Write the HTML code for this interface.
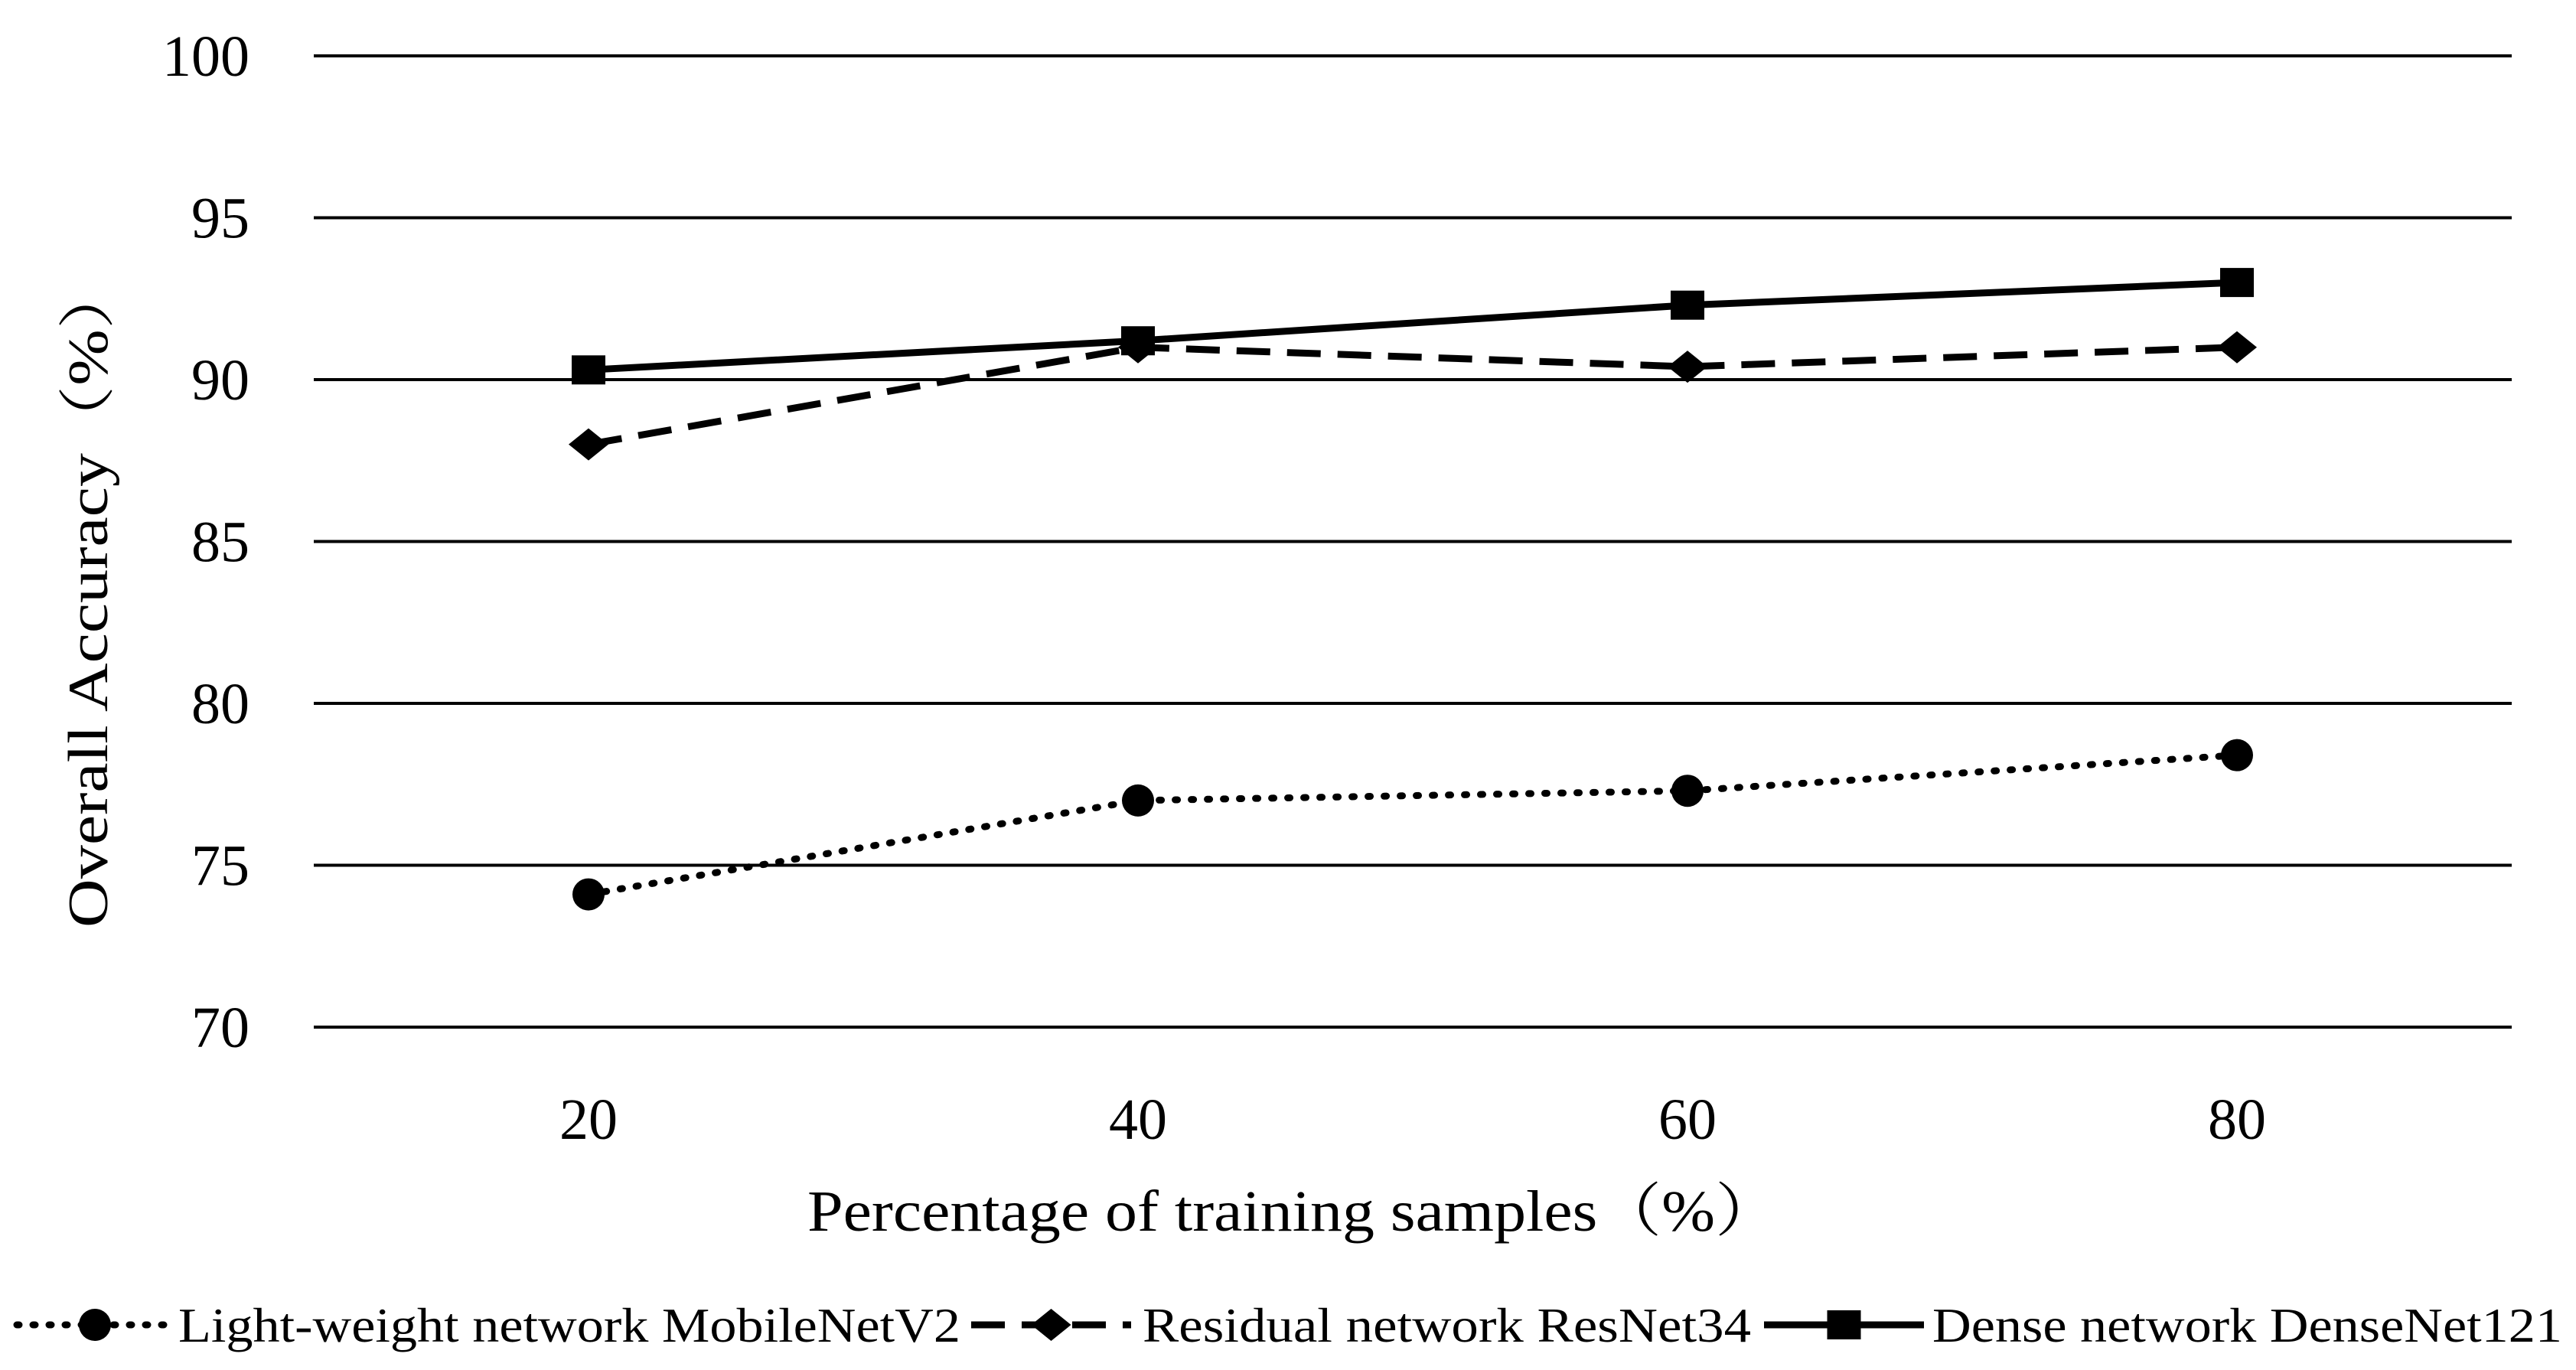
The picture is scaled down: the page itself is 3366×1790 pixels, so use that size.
<!DOCTYPE html>
<html><head><meta charset="utf-8"><style>
html,body{margin:0;padding:0;background:#fff;}
svg{display:block;font-family:"Liberation Serif","Noto Serif CJK SC",serif;}
</style></head><body>
<svg id="chart" width="3366" height="1790" viewBox="0 0 3366 1790" xmlns="http://www.w3.org/2000/svg">
<g id="grid"></g>
<g id="yticks"></g>
<g id="xticks"></g>
<g id="series"></g>
<text transform="translate(140,777) rotate(-90)" text-anchor="middle" font-size="74" textLength="870" lengthAdjust="spacingAndGlyphs">Overall Accuracy（%）</text>
<text x="1690" y="1608" text-anchor="middle" font-size="76" textLength="1270" lengthAdjust="spacingAndGlyphs">Percentage of training samples（%）</text>
<g id="legend"></g>
</svg>
<script>
const categories = [20, 40, 60, 80];
const mobileValues = [74.1, 77.0, 77.3, 78.4];
const resnetValues = [88.0, 91.0, 90.4, 91.0];
const densenetValues = [90.3, 91.2, 92.3, 93.0];
const yTicks = [70, 75, 80, 85, 90, 95, 100];
const seriesNames = ["Light-weight network MobileNetV2", "Residual network ResNet34", "Dense network DenseNet121"];

const NS = "http://www.w3.org/2000/svg";
const plotLeft = 410, plotRight = 3282, plotTop = 73, plotBottom = 1342;
const yMin = 70, yMax = 100;
function xPos(i){ const band = (plotRight-plotLeft)/categories.length; return plotLeft + band*(i+0.5); }
function yPos(v){ return plotBottom - (v-yMin)/(yMax-yMin)*(plotBottom-plotTop); }
function mk(tag, attrs, parent){ const e=document.createElementNS(NS,tag); for(const k in attrs) e.setAttribute(k,attrs[k]); parent.appendChild(e); return e; }

const grid=document.getElementById('grid'), yt=document.getElementById('yticks'), xt=document.getElementById('xticks');
yTicks.forEach(t=>{
  const l=mk('line',{x1:plotLeft,x2:plotRight,y1:yPos(t),y2:yPos(t),stroke:'#000','stroke-width':4},grid);
  
  
  const tx=mk('text',{x:326,y:yPos(t)+26,'text-anchor':'end','font-size':76},yt);
  tx.textContent=t;
  
  
});
categories.forEach((c,i)=>{
  const tx=mk('text',{x:xPos(i),y:1488,'text-anchor':'middle','font-size':76},xt);
  tx.textContent=c;
  
  
});

const styles=[
  {vals:mobileValues,dash:'3 18',cap:'round',w:9,marker:'circle',key:'mobilenet'},
  {vals:resnetValues,dash:'44 22',cap:'butt',w:9,marker:'diamond',key:'resnet'},
  {vals:densenetValues,dash:'none',cap:'butt',w:9,marker:'square',key:'densenet'}
];
function marker(type,x,y,parent,name){
  let m;
  if(type==='circle') m=mk('circle',{cx:x,cy:y,r:21,fill:'#000'},parent);
  else if(type==='diamond') m=mk('polygon',{points:`${x},${y-21} ${x+26},${y} ${x},${y+21} ${x-26},${y}`,fill:'#000'},parent);
  else m=mk('rect',{x:x-22,y:y-19,width:44,height:38,fill:'#000'},parent);
  
  
}
const sg=document.getElementById('series');
styles.forEach(s=>{
  const pts=s.vals.map((v,i)=>xPos(i)+','+yPos(v)).join(' ');
  const pl=mk('polyline',{points:pts,fill:'none',stroke:'#000','stroke-width':s.w,'stroke-dasharray':s.dash,'stroke-linecap':s.cap},sg);
  
  
  s.vals.forEach((v,i)=>marker(s.marker,xPos(i),yPos(v),sg,s.key+'-point-'+categories[i]));
});

const lg=document.getElementById('legend');
const legendLayout=[{x1:22,x2:226,tx:233,tw:1022},{x1:1269,x2:1478,tx:1493,tw:795},{x1:2305,x2:2514,tx:2525,tw:823}];
const ly=1731;
styles.forEach((s,i)=>{
  const L=legendLayout[i];
  const g=mk('g',{},lg);
  
  
  mk('line',{x1:L.x1,x2:L.x2,y1:ly,y2:ly,stroke:'#000','stroke-width':9,'stroke-dasharray':s.dash,'stroke-linecap':s.cap},g);
  marker(s.marker,(L.x1+L.x2)/2,ly,g,'legend-marker-'+s.key);
  const t=mk('text',{x:L.tx,y:ly+22,'font-size':64,textLength:L.tw,lengthAdjust:'spacingAndGlyphs'},g);
  t.textContent=seriesNames[i];
  
  
});
</script>
</body></html>
